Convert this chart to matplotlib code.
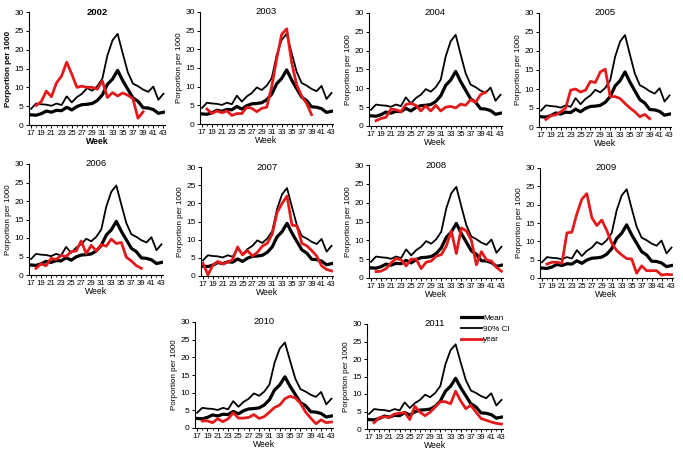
import matplotlib
import matplotlib.pyplot as plt

matplotlib.use('Agg')

plt.rcParams['font.family'] = ['Liberation Sans', 'DejaVu Sans']

weeks = list(range(17, 44))

mean = [2.7, 2.6, 3.0, 3.7, 3.4, 3.9, 3.8, 4.7, 4.0, 4.9, 5.4, 5.5, 5.7, 6.5, 8.0,
        10.8, 12.2, 14.5, 11.8, 9.5, 7.2, 6.3, 4.6, 4.5, 4.1, 3.1, 3.4]
ci_upper = [4.3, 5.7, 5.5, 5.4, 5.1, 5.7, 5.3, 7.6, 6.0, 7.4, 8.3, 9.8, 9.1, 10.3, 12.3,
            18.5, 22.5, 24.2, 19.0, 14.0, 11.0, 10.3, 9.4, 8.8, 10.2, 6.7, 8.3]

# red series per year, first value is week 18 unless noted
y2002 = [5.2, 6.2, 9.0, 7.5, 11.2, 13.0, 16.7, 13.5, 10.0, 10.3, 10.0, 10.0, 9.5, 11.7,
         7.3, 8.6, 7.7, 8.5, 7.9, 7.0, 1.8, 3.5]
y2003 = [4.0, 2.8, 3.5, 3.0, 3.5, 2.3, 2.8, 2.8, 4.5, 4.2, 3.3, 4.2, 4.5, 10.0, 17.5,
         24.0, 25.5, 16.5, 10.5, 7.5, 5.5, 2.5]
y2004 = [1.4, 2.0, 2.3, 4.5, 4.3, 3.8, 5.7, 6.0, 5.5, 4.0, 5.3, 4.0, 5.5, 4.0, 5.0,
         5.2, 4.8, 5.8, 5.5, 7.0, 6.3, 8.3, 9.0]
y2005 = [2.0, 3.0, 3.2, 4.0, 5.0, 9.7, 10.0, 9.2, 9.7, 12.0, 11.7, 14.5, 15.2, 8.0,
         8.0, 7.5, 6.2, 5.0, 4.0, 2.7, 3.3, 2.2]
y2006 = [1.8, 3.0, 2.5, 4.5, 4.2, 5.3, 5.0, 6.3, 6.5, 9.2, 5.8, 8.0, 6.5, 8.2, 7.8,
         9.7, 8.5, 8.8, 4.8, 3.8, 2.5, 1.8]
y2007 = [3.5, 0.3, 3.0, 4.0, 3.3, 3.8, 4.5, 8.0, 5.8, 7.0, 5.5, 6.5, 8.2, 9.0, 11.5,
         17.5, 20.0, 22.0, 14.0, 13.8, 9.0, 8.3, 7.0, 5.5, 2.8, 1.8, 1.4]  # from week 17
y2008 = [1.7, 1.8, 2.5, 4.0, 5.2, 4.8, 3.2, 5.0, 5.0, 2.5, 4.2, 4.5, 5.8, 6.2, 8.5,
         12.5, 6.5, 13.3, 12.5, 10.0, 3.5, 7.0, 4.8, 4.5, 2.8, 1.8]
y2009 = [3.8, 4.3, 4.3, 4.0, 12.3, 12.5, 17.5, 21.5, 23.0, 16.5, 14.3, 15.8, 13.0, 9.5,
         7.5, 6.3, 5.3, 5.2, 1.3, 3.3, 2.0, 2.0, 2.0, 0.8, 1.0, 0.9]
y2010 = [2.0, 2.0, 1.5, 2.6, 1.8, 2.6, 4.3, 2.8, 2.8, 3.0, 3.8, 2.7, 3.2, 4.5, 5.8,
         6.5, 8.3, 9.0, 8.5, 7.0, 4.5, 2.8, 1.2, 2.3, 1.5, 1.7]
y2011 = [1.8, 3.2, 3.5, 3.3, 4.3, 4.5, 4.7, 2.7, 6.5, 4.8, 3.8, 4.8, 6.3, 7.8, 7.8,
         7.2, 10.8, 8.0, 5.8, 6.8, 4.8, 3.0, 2.5, 2.0, 1.6, 1.4]

years = {
    '2002': (18, y2002), '2003': (18, y2003), '2004': (18, y2004), '2005': (18, y2005),
    '2006': (18, y2006), '2007': (17, y2007), '2008': (18, y2008), '2009': (18, y2009),
    '2010': (18, y2010), '2011': (18, y2011),
}

W, H = 683, 453
# axes boxes in pixels: left, top, right, bottom
boxes = {
    '2002': (29, 12, 165, 125), '2003': (200, 12, 333, 124),
    '2004': (369, 13, 502, 126), '2005': (539, 13, 671, 127),
    '2006': (29, 164, 163, 275), '2007': (201, 167, 333, 276),
    '2008': (369, 165, 503, 278), '2009': (540, 168, 673, 278),
    '2010': (195, 322, 333, 428), '2011': (367, 324, 503, 429),
}

fig = plt.figure(figsize=(W / 100, H / 100), dpi=100)
fs = 5.6

for name, (start, vals) in years.items():
    l, t, r, b = boxes[name]
    ax = fig.add_axes([l / W, 1 - b / H, (r - l) / W, (b - t) / H])
    bold = 'bold' if name == '2002' else 'normal'

    ax.plot(weeks, ci_upper, color='black', lw=1.3, label='90% CI')
    ax.plot(weeks, mean, color='black', lw=2.3, label='Mean')
    ax.plot(range(start, start + len(vals)), vals, color='#e31a1c', lw=2.0, label='year')

    ax.set_xlim(16.6, 43.3)
    ax.set_ylim(0, 30)
    ax.set_yticks(range(0, 31, 5))
    ax.set_xticks(range(17, 44, 2))
    ax.set_xticks(weeks, minor=True)
    ax.tick_params(labelsize=fs, length=2.5, width=0.7, pad=1.2)
    ax.tick_params(axis='y', labelsize=fs + 0.4)
    ax.tick_params(which='minor', length=1.5, width=0.6)
    for s in ['top', 'right']:
        ax.spines[s].set_visible(False)
    for s in ['left', 'bottom']:
        ax.spines[s].set_linewidth(0.8)
    ax.set_xlabel('Week', fontsize=fs + 0.6, labelpad=0, fontweight=bold)
    ax.set_ylabel('Porportion per 1000', fontsize=fs + 0.2, labelpad=2, fontweight=bold)
    ax.text(0.5, 1.0, name, transform=ax.transAxes, ha='center', va='center',
            fontsize=fs + 1.2, fontweight=bold)

    if name == '2011':
        h, lab = ax.get_legend_handles_labels()
        order = [1, 0, 2]
        ax.legend([h[i] for i in order], [lab[i] for i in order], loc='upper left',
                  bbox_to_anchor=(0.66, 1.13), frameon=False, fontsize=fs + 0.3,
                  handlelength=2.6, handletextpad=0.1, labelspacing=0.35,
                  borderpad=0)

fig.savefig('out.png', dpi=100)
